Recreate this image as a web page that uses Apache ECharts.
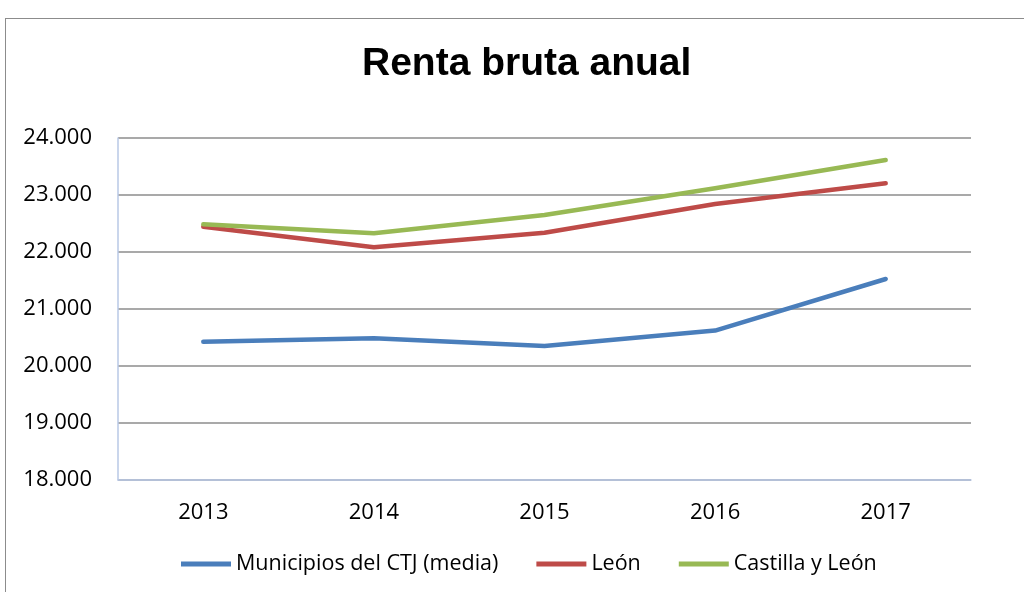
<!DOCTYPE html>
<html>
<head>
<meta charset="utf-8">
<script src="https://cdn.jsdelivr.net/npm/echarts@6/dist/echarts.min.js"></script>
<style>
  html, body { margin: 0; padding: 0; background: #ffffff; }
  .frame {
    position: absolute;
    left: 5px;
    top: 18px;
    width: 1030px;
    height: 590px;
    border: 1.5px solid #8c8c8c;
    box-sizing: border-box;
  }
  #chart { position: absolute; left: 0; top: 0; width: 1024px; height: 592px; }
</style>
</head>
<body>
<div class="frame"></div>
<div id="chart"></div>
<script>
const years = ['2013', '2014', '2015', '2016', '2017']
const municipios = [20425, 20487, 20351, 20622, 21526]
const leon = [22444, 22082, 22338, 22842, 23205]
const castillaLeon = [22485, 22327, 22649, 23117, 23614]

const fontFamily = '"Open Sans", sans-serif'

const chart = echarts.init(document.getElementById('chart'))

const lineSeries = (name, data, color) => ({
  name: name,
  type: 'line',
  data: data,
  symbol: 'none',
  lineStyle: { width: 4.5, color: color, cap: 'round', join: 'round' },
  itemStyle: { color: color }
})

chart.setOption({
  animation: false,
  title: {
    text: 'Renta bruta anual',
    left: 357,
    top: 40,
    textStyle: {
      fontFamily: '"Liberation Sans", sans-serif',
      fontWeight: 'bold',
      fontSize: 39,
      color: '#000000'
    }
  },
  legend: {
    bottom: 12,
    left: 176,
    icon: 'rect',
    itemWidth: 50,
    itemHeight: 5,
    itemGap: 38,
    textStyle: { fontFamily: fontFamily, fontSize: 21.5, color: '#000000' },
    data: ['Municipios del CTJ (media)', 'León', 'Castilla y León']
  },
  grid: { left: 118, right: 53, top: 138, bottom: 112, containLabel: false },
  xAxis: {
    type: 'category',
    data: years,
    boundaryGap: true,
    axisLine: { lineStyle: { color: '#b8c8e6', width: 1.5 } },
    axisTick: { show: false },
    axisLabel: { margin: 22, fontFamily: fontFamily, fontSize: 22, color: '#000000' }
  },
  yAxis: {
    type: 'value',
    min: 18000,
    max: 24000,
    interval: 1000,
    axisLine: { show: true, lineStyle: { color: '#b8c8e6', width: 1.5 } },
    axisTick: { show: false },
    splitLine: { lineStyle: { color: '#8c8c8c', width: 1.5 } },
    axisLabel: {
      margin: 26,
      fontFamily: fontFamily,
      fontSize: 22,
      color: '#000000',
      formatter: (v) => String(v).replace(/\B(?=(\d{3})+(?!\d))/g, '.')
    }
  },
  series: [
    lineSeries('Municipios del CTJ (media)', municipios, '#4a7ebb'),
    lineSeries('León', leon, '#be4b48'),
    lineSeries('Castilla y León', castillaLeon, '#98b954')
  ]
})
</script>
</body>
</html>
